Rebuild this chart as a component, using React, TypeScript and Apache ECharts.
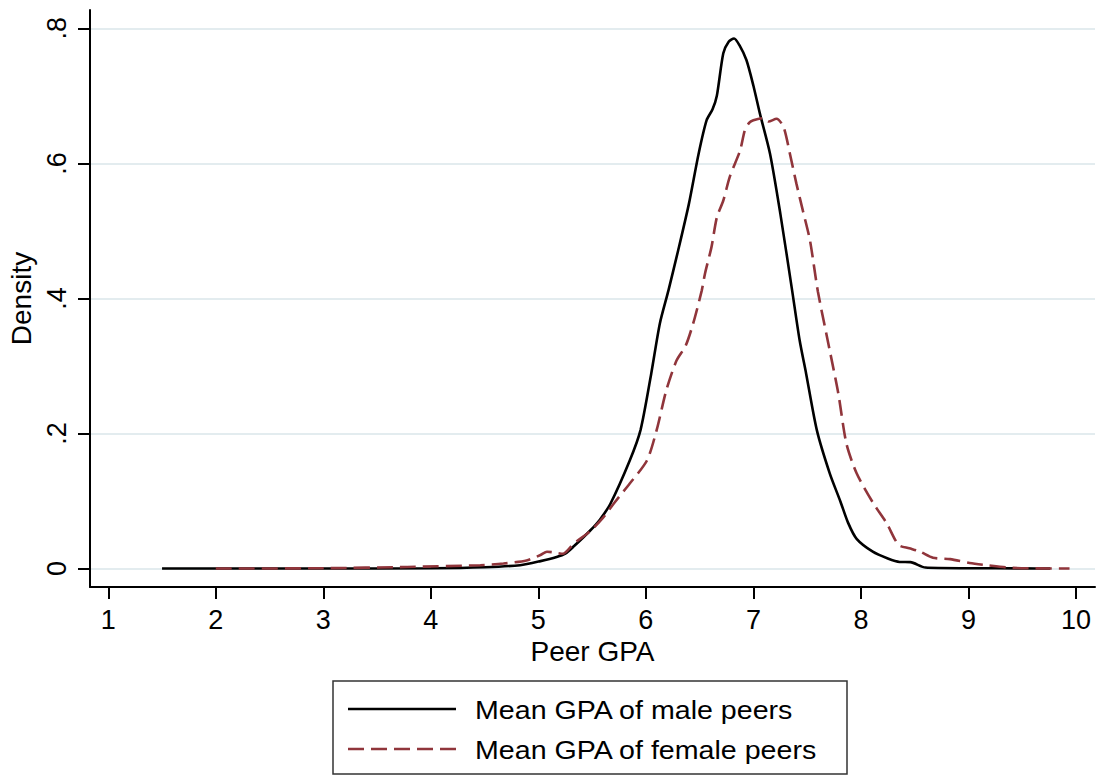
import React, { useEffect, useRef } from 'react';
import * as echarts from 'echarts';

const xTicks = [1, 2, 3, 4, 5, 6, 7, 8, 9, 10];
const yTicks = [0, 0.2, 0.4, 0.6, 0.8];
const yTickLabels = ['0', '.2', '.4', '.6', '.8'];
const seriesNames = ['Mean GPA of male peers', 'Mean GPA of female peers'];
const xTitle = 'Peer GPA';
const yTitle = 'Density';

const maleX = [1.5, 2.0, 3.0, 4.0, 4.5, 4.83, 5.02, 5.17, 5.25, 5.33, 5.48, 5.57, 5.67, 5.85, 5.95, 6.05, 6.13, 6.21, 6.3, 6.4, 6.49, 6.565, 6.62, 6.66, 6.72, 6.77, 6.82, 6.87, 6.935, 7.0, 7.06, 7.155, 7.25, 7.36, 7.43, 7.49, 7.59, 7.71, 7.81, 7.88, 7.96, 8.11, 8.25, 8.36, 8.46, 8.6, 9.0, 9.5, 9.76];
const maleY = [0, 0, 0, 0.0005, 0.002, 0.005, 0.011, 0.017, 0.022, 0.033, 0.056, 0.072, 0.096, 0.16, 0.205, 0.289, 0.363, 0.412, 0.471, 0.54, 0.614, 0.664, 0.68, 0.7, 0.763, 0.78, 0.785, 0.775, 0.753, 0.715, 0.674, 0.614, 0.526, 0.412, 0.338, 0.289, 0.205, 0.141, 0.099, 0.068, 0.044, 0.025, 0.015, 0.0098, 0.0095, 0.0015, 0.0005, 0.0003, 0];

const femaleX = [2.0, 3.0, 3.78, 4.46, 4.675, 4.89, 5.02, 5.08, 5.14, 5.23, 5.33, 5.48, 5.6, 5.7, 5.85, 6.01, 6.1, 6.19, 6.285, 6.37, 6.44, 6.52, 6.55, 6.61, 6.66, 6.72, 6.78, 6.876, 6.92, 6.96, 7.0, 7.09, 7.14, 7.215, 7.28, 7.34, 7.4, 7.46, 7.526, 7.6, 7.71, 7.79, 7.865, 7.96, 8.11, 8.24, 8.35, 8.45, 8.55, 8.67, 8.83, 9.01, 9.17, 9.41, 9.94];
const femaleY = [0, 0.0005, 0.0024, 0.005, 0.0074, 0.012, 0.02, 0.025, 0.024, 0.022, 0.037, 0.055, 0.075, 0.096, 0.126, 0.16, 0.205, 0.264, 0.308, 0.33, 0.363, 0.412, 0.437, 0.476, 0.52, 0.545, 0.58, 0.619, 0.649, 0.66, 0.664, 0.667, 0.662, 0.666, 0.654, 0.614, 0.57, 0.53, 0.486, 0.41, 0.323, 0.259, 0.185, 0.141, 0.098, 0.067, 0.035, 0.03, 0.025, 0.016, 0.014, 0.0083, 0.005, 0.001, 0];

const FONT = '"Liberation Sans", Arial, sans-serif';
const MAROON = '#90353b';

export default function App() {
  const ref = useRef<HTMLDivElement>(null);
  useEffect(() => {
    document.body.style.margin = '0';
    const chart = echarts.init(ref.current as HTMLDivElement, null, { renderer: 'svg' });
    const labelFor = (v: number) => {
      const i = yTicks.findIndex((t) => Math.abs(t - v) < 1e-9);
      return i >= 0 ? yTickLabels[i] : '';
    };
    chart.setOption({
      animation: false,
      backgroundColor: '#ffffff',
      textStyle: { fontFamily: FONT, color: '#000' },
      grid: { left: 90, right: 4, top: 10, bottom: 188, containLabel: false, outerBoundsMode: 'none' },
      xAxis: {
        type: 'value',
        min: 0.83,
        max: 10.177,
        axisLine: { show: true, onZero: false, lineStyle: { color: '#000', width: 2 } },
        axisTick: { show: true, length: 12, customValues: xTicks, lineStyle: { color: '#000', width: 2 } },
        axisLabel: { customValues: xTicks, fontSize: 27, fontFamily: FONT, color: '#000', margin: 19 },
        splitLine: { show: false },
        name: xTitle,
        nameLocation: 'middle',
        nameGap: 45,
        nameTextStyle: { fontSize: 28, fontFamily: FONT, color: '#000' },
      },
      yAxis: {
        type: 'value',
        min: -0.0273,
        max: 0.8271,
        axisLine: { show: true, onZero: false, lineStyle: { color: '#000', width: 2 } },
        axisTick: { show: true, length: 12, customValues: yTicks, lineStyle: { color: '#000', width: 2 } },
        axisLabel: {
          customValues: yTicks,
          rotate: 90,
          fontSize: 27,
          fontFamily: FONT,
          color: '#000',
          margin: 20,
          formatter: (v: number) => labelFor(v),
        },
        splitLine: { show: true, lineStyle: { color: '#e3ecef', width: 2 } },
        name: yTitle,
        nameLocation: 'middle',
        nameRotate: 90,
        nameGap: 52,
        nameTextStyle: { fontSize: 28, fontFamily: FONT, color: '#000' },
      },
      series: [
        {
          type: 'line',
          name: seriesNames[0],
          data: maleX.map((x, i) => [x, maleY[i]]),
          symbol: 'none',
          showSymbol: false,
          smooth: 0.25,
          lineStyle: { color: '#000', width: 2.6 },
          itemStyle: { color: '#000' },
          z: 2,
        },
        {
          type: 'line',
          name: seriesNames[1],
          data: femaleX.map((x, i) => [x, femaleY[i]]),
          symbol: 'none',
          showSymbol: false,
          smooth: 0.25,
          lineStyle: { color: MAROON, width: 2.6, type: [16, 7] },
          itemStyle: { color: MAROON },
          z: 3,
        },
      ],
      graphic: [
        {
          type: 'rect',
          shape: { x: 333, y: 681, width: 514, height: 93 },
          style: { fill: '#fff', stroke: '#333', lineWidth: 1.5 },
        },
        {
          type: 'line',
          shape: { x1: 348, y1: 709, x2: 456, y2: 709 },
          style: { stroke: '#000', lineWidth: 2.6 },
        },
        {
          type: 'line',
          shape: { x1: 348, y1: 749, x2: 456, y2: 749 },
          style: { stroke: MAROON, lineWidth: 2.6, lineDash: [16, 7] },
        },
        {
          type: 'text',
          x: 475,
          y: 710,
          scaleX: 1.1,
          style: { text: seriesNames[0], fontSize: 26, fontFamily: FONT, fill: '#000', verticalAlign: 'middle', align: 'left' },
        },
        {
          type: 'text',
          x: 475,
          y: 750,
          scaleX: 1.1,
          style: { text: seriesNames[1], fontSize: 26, fontFamily: FONT, fill: '#000', verticalAlign: 'middle', align: 'left' },
        },
      ],
    });
    return () => chart.dispose();
  }, []);
  return <div ref={ref} style={{ width: 1099, height: 775 }} />;
}
